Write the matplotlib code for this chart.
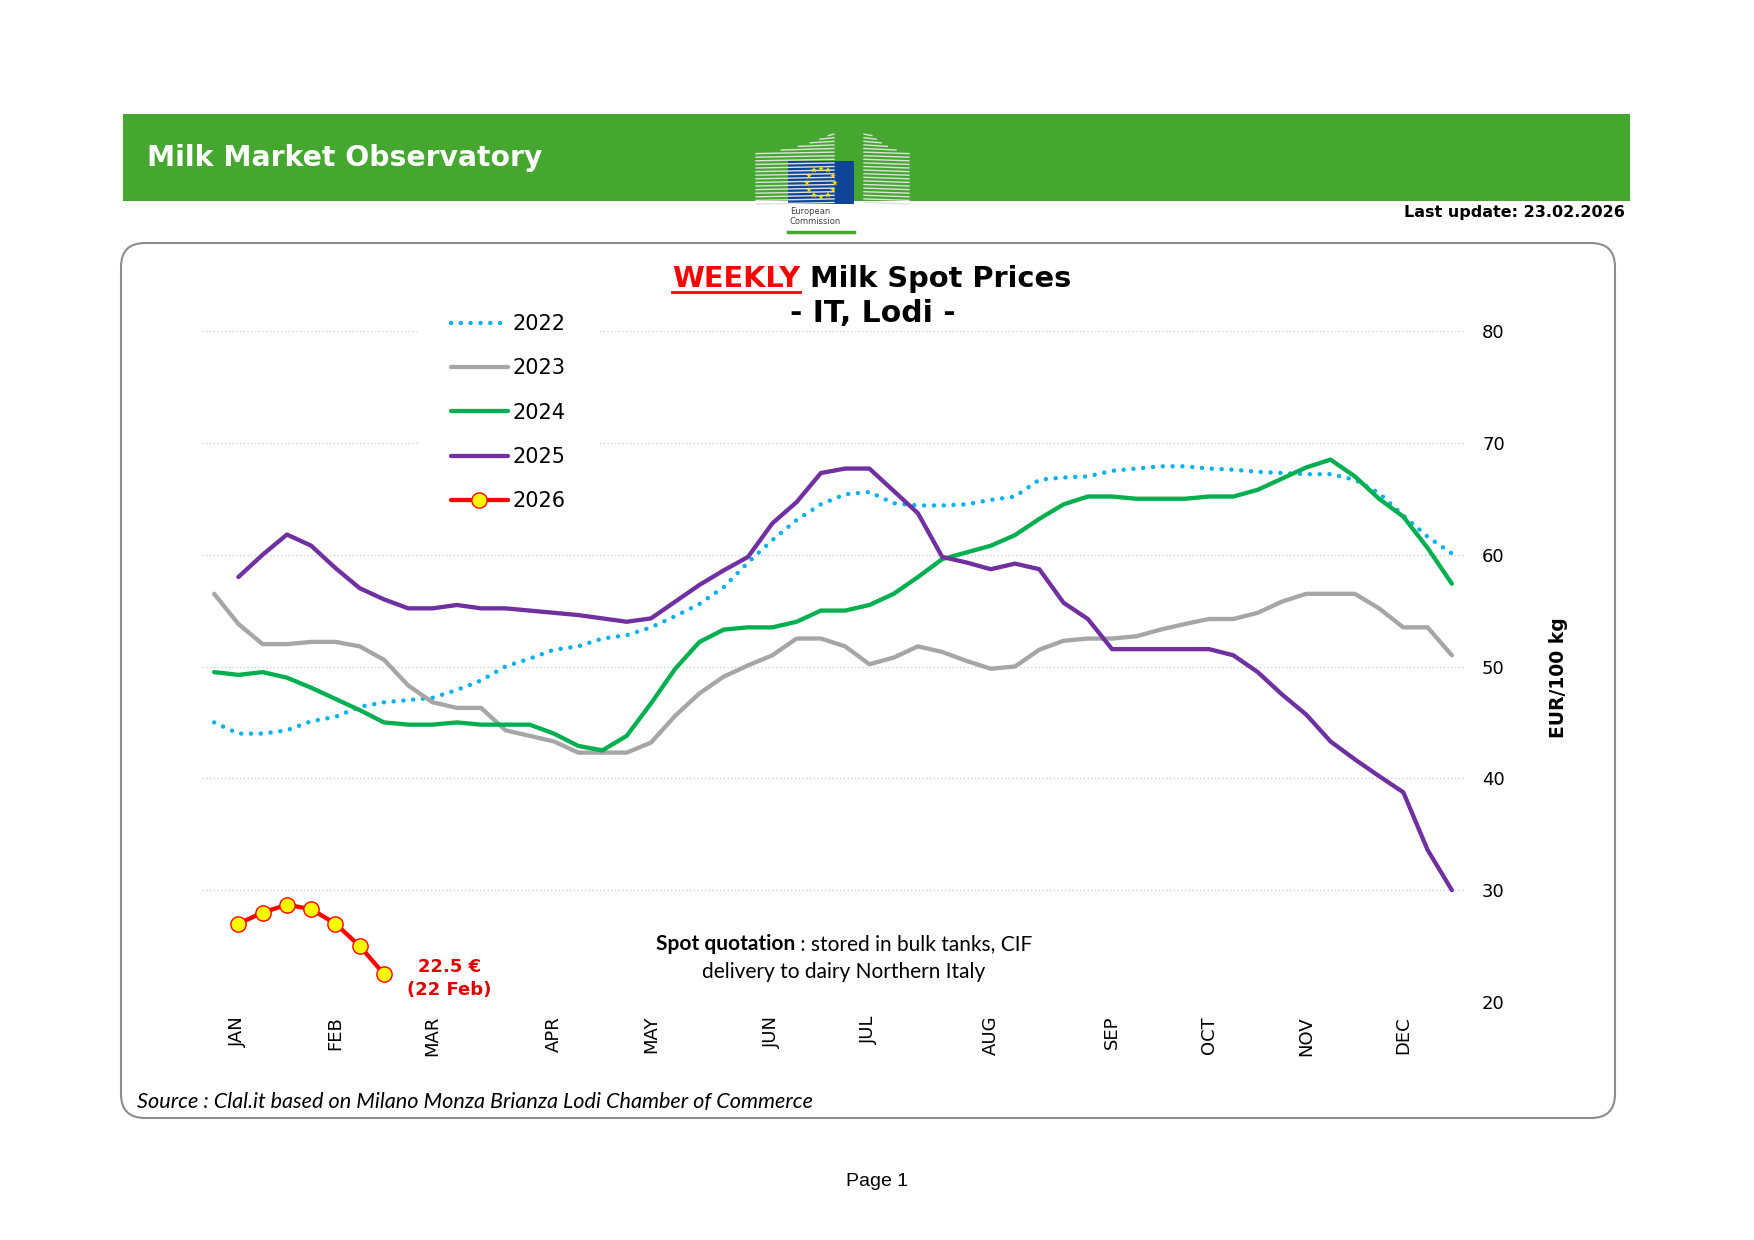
import numpy as np
import matplotlib
matplotlib.use("Agg")
import matplotlib.pyplot as plt
import matplotlib.transforms as mtransforms
from matplotlib.patches import FancyBboxPatch, Rectangle
from matplotlib.lines import Line2D

W, H = 1754, 1240

# ---- data (EUR/100 kg, weekly, week index 0..51) ----
weeks = np.arange(52)
month_pos = [1, 5, 9, 14, 18, 23, 27, 32, 37, 41, 45, 49]
month_labels = ["JAN", "FEB", "MAR", "APR", "MAY", "JUN",
                "JUL", "AUG", "SEP", "OCT", "NOV", "DEC"]

p2022 = [45.0, 44.0, 44.0, 44.3, 45.1, 45.5, 46.4, 46.8, 47.0, 47.2, 47.9, 48.75,
         50.0, 50.7, 51.5, 51.8, 52.5, 52.8,
         53.5, 54.5, 55.6, 57.1, 59.3, 61.3, 63.1, 64.5, 65.4, 65.6, 64.6, 64.4,
         64.4, 64.5, 64.9, 65.2, 66.7,
         66.9, 67.0, 67.5, 67.7, 67.9, 67.9, 67.7, 67.6, 67.4, 67.3, 67.2, 67.2,
         66.7, 65.5, 63.5, 61.6, 60.1]
p2023 = [56.5, 53.8, 52.0, 52.0, 52.2, 52.2, 51.8, 50.6, 48.3, 46.8, 46.3, 46.3,
         44.3, 43.8, 43.3, 42.3, 42.3, 42.3,
         43.2, 45.6, 47.6, 49.1, 50.1, 51.0, 52.5, 52.5, 51.8, 50.2, 50.8, 51.8,
         51.3, 50.5, 49.8, 50.0, 51.5,
         52.3, 52.5, 52.5, 52.7, 53.3, 53.8, 54.25, 54.25, 54.8, 55.8, 56.5, 56.5,
         56.5, 55.2, 53.5, 53.5, 51.0]
p2024 = [49.5, 49.25, 49.5, 49.0, 48.1, 47.1, 46.1, 45.0, 44.8, 44.8, 45.0, 44.8,
         44.8, 44.8, 44.0, 42.9, 42.5, 43.8,
         46.7, 49.8, 52.2, 53.3, 53.5, 53.5, 54.0, 55.0, 55.0, 55.5, 56.5, 58.0,
         59.6, 60.2, 60.8, 61.75, 63.2,
         64.5, 65.2, 65.2, 65.0, 65.0, 65.0, 65.2, 65.2, 65.8, 66.8, 67.8, 68.5,
         67.0, 65.0, 63.4, 60.6, 57.4]
p2025 = [np.nan, 58.0, 60.0, 61.8, 60.8, 58.8, 57.0, 56.0, 55.2, 55.2, 55.5, 55.2,
         55.2, 55.0, 54.8, 54.6, 54.3, 54.0,
         54.3, 55.8, 57.3, 58.6, 59.8, 62.8, 64.7, 67.3, 67.7, 67.7, 65.7, 63.7,
         59.8, 59.3, 58.7, 59.2, 58.7,
         55.7, 54.25, 51.55, 51.55, 51.55, 51.55, 51.55, 51.0, 49.5, 47.5, 45.7, 43.3,
         41.7, 40.2, 38.75, 33.6, 30.0]
weeks_2026 = [1, 2, 3, 4, 5, 6, 7]
p2026 = [27.0, 28.0, 28.7, 28.3, 27.0, 25.0, 22.5]

fig = plt.figure(figsize=(W / 100, H / 100), dpi=100)
# pixel coordinates, origin top-left
px = mtransforms.Affine2D().scale(1 / W, -1 / H).translate(0, 1) + fig.transFigure

green = "#45a72f"

# ---- header ----
fig.add_artist(Rectangle((123, 114), 1630 - 123, 201 - 114, transform=px,
                         facecolor=green, edgecolor="none"))
fig.text(147, 158, "Milk Market Observatory", transform=px, color="white",
         fontsize=20.3, fontweight="bold", va="center", ha="left")

# EU logo (simplified)
for k in range(20):
    y = 204 - k * 3.6
    if y >= 152:
        xs = 756
    else:
        xs = 756 + 80 * np.sqrt((152 - y) / 20.0)
    if xs < 834:
        fig.add_artist(Line2D([xs, 834], [y, y - 1.5], transform=px,
                              color="#e0e0e0", lw=1.0))
    if y >= 152:
        xe = 909
    else:
        xe = 909 - 41 * np.sqrt((152 - y) / 20.0)
    if xe > 864:
        fig.add_artist(Line2D([864, xe], [y - 1.5, y], transform=px,
                              color="#e0e0e0", lw=1.0))
fig.add_artist(Rectangle((788, 161), 66, 43, transform=px,
                         facecolor="#0e4595", edgecolor="none"))
ang = np.linspace(0, 2 * np.pi, 13)[:-1]
fig.add_artist(Line2D(821 + 14 * np.cos(ang), 182.5 + 14 * np.sin(ang), transform=px,
                      linestyle="none", marker="*", markersize=4.5,
                      color="#ffdd00", markeredgewidth=0))
fig.text(790, 212, "European", transform=px, fontsize=6, color="#444444", va="center")
fig.text(790, 222, "Commission", transform=px, fontsize=6, color="#444444", va="center")
fig.add_artist(Line2D([788, 854], [232, 232], transform=px, color=green, lw=2.5))

fig.text(1625, 212, "Last update: 23.02.2026", transform=px, ha="right", va="center",
         fontsize=11.5, fontweight="bold")

# ---- rounded frame ----
fig.add_artist(FancyBboxPatch((121, 243), 1615 - 121, 1118 - 243,
                              boxstyle="round,pad=0,rounding_size=24", transform=px,
                              facecolor="none", edgecolor="#8c8c8c", lw=1.5))

# ---- chart ----
ax = fig.add_axes([202 / W, 1 - 1002 / H, 1262 / W, 671 / H])

solid = dict(lw=3.1, solid_capstyle="round", solid_joinstyle="round")
l22, = ax.plot(weeks, p2022, color="#00b0f0", lw=3.2, linestyle=(0, (0.01, 2.2)),
               dash_capstyle="round", label="2022")
l23, = ax.plot(weeks, p2023, color="#a6a6a6", label="2023", **solid)
l24, = ax.plot(weeks, p2024, color="#00b050", label="2024", **solid)
l25, = ax.plot(weeks, p2025, color="#7030a0", label="2025", **solid)
l26, = ax.plot(weeks_2026, p2026, color="#ff0000", marker="o", markersize=11,
               markerfacecolor="#ffff00", markeredgecolor="#ff0000",
               markeredgewidth=1, label="2026", **solid)

ax.set_xlim(-0.5, 51.5)
ax.set_ylim(20, 80)
ax.set_yticks(np.arange(20, 81, 10))
ax.set_xticks(month_pos, month_labels, rotation=90)
ax.yaxis.tick_right()
ax.tick_params(axis="y", length=0, pad=13, labelsize=13)
ax.tick_params(axis="x", length=0, pad=10, labelsize=13)
ax.grid(axis="y", color="#c8c8c8", linestyle=(0, (1, 2)), linewidth=0.9)
ax.set_axisbelow(True)
for s in ax.spines.values():
    s.set_visible(False)

ax.legend(handles=[l22, l23, l24, l25, l26], loc="upper left",
          bbox_to_anchor=(418, 281), bbox_transform=px, frameon=True, fancybox=False,
          edgecolor="none", facecolor="white", framealpha=1, fontsize=15,
          handlelength=2.7, handletextpad=0.25, labelspacing=1.16, borderpad=1.6,
          borderaxespad=0, numpoints=1)

ax.annotate("22.5 €\n(22 Feb)", xy=(weeks_2026[-1], p2026[-1]), xytext=(47, -3),
            textcoords="offset points", ha="center", va="center", color="#e00000",
            fontsize=13, fontweight="bold", linespacing=1.35)

fig.text(1559, 678, "EUR/100 kg", transform=px, rotation=90, ha="center", va="center",
         fontsize=13.5, fontweight="bold")

renderer = fig.canvas.get_renderer()


def put_line(pieces, xc, y, **common):
    texts = []
    for s, kw in pieces:
        t = fig.text(0, y, s, transform=px, va="baseline", ha="left", **common, **kw)
        texts.append(t)
    widths = [t.get_window_extent(renderer).width for t in texts]
    x = xc - sum(widths) / 2
    for t, w in zip(texts, widths):
        t.set_x(x)
        x += w
    return texts


tt = put_line([("WEEKLY", dict(color="#ff0000")), (" Milk Spot Prices", {})],
              872, 287, fontsize=20.8, fontweight="bold")
bb = tt[0].get_window_extent(renderer)
fig.add_artist(Line2D([bb.x0, bb.x1], [292, 292], transform=px, color="#ff0000", lw=2))
put_line([("- IT, Lodi -", {})], 873, 322, fontsize=21.5, fontweight="bold")

put_line([("Spot quotation", dict(fontweight="bold")),
          (" : stored in bulk tanks, CIF", {})], 844, 950,
         fontsize=15, family="Lato")
put_line([("delivery to dairy Northern Italy", {})], 844, 978,
         fontsize=15, family="Lato")

fig.text(137, 1102, "Source : Clal.it based on Milano Monza Brianza Lodi Chamber of Commerce",
         transform=px, va="center", ha="left", fontsize=15.6, style="italic", family="Lato")
fig.text(877, 1181, "Page 1", transform=px, va="center", ha="center", fontsize=14,
         family="Liberation Sans")

fig.savefig("out.png", dpi=100)
